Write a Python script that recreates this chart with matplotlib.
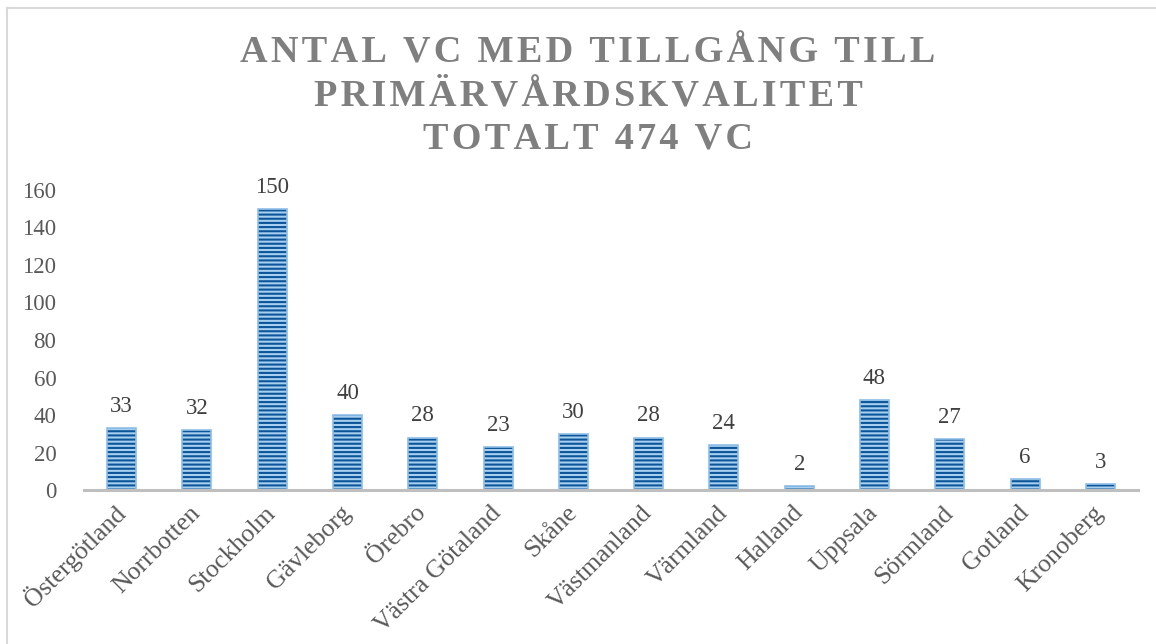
import numpy as np
import matplotlib.pyplot as plt
from matplotlib.lines import Line2D

# data
regions = ['Östergötland', 'Norrbotten', 'Stockholm', 'Gävleborg', 'Örebro',
           'Västra Götaland', 'Skåne', 'Västmanland', 'Värmland', 'Halland',
           'Uppsala', 'Sörmland', 'Gotland', 'Kronoberg']
counts = [33, 32, 150, 40, 28, 23, 30, 28, 24, 2, 48, 27, 6, 3]
yticks = [0, 20, 40, 60, 80, 100, 120, 140, 160]
title_lines = ['ANTAL VC MED TILLGÅNG TILL', 'PRIMÄRVÅRDSKVALITET', 'TOTALT 474 VC']

plt.rcParams['font.family'] = ['Liberation Serif', 'DejaVu Serif']
plt.rcParams['hatch.linewidth'] = 1.5

fig = plt.figure(figsize=(11.56, 6.44), dpi=100)
ax = fig.add_axes([0.0727, 0.2391, 0.9117, 0.4659])

x = np.arange(len(regions))
# light blue base with dark blue horizontal stripes
ax.bar(x, counts, width=0.385, color='#a6cff0', edgecolor='#0d5599',
       linewidth=0, hatch='----', zorder=2)
ax.bar(x, counts, width=0.385, color='none', edgecolor='#8dbde6',
       linewidth=1.2, zorder=2)

# value labels above bars
for xi, v in zip(x, counts):
    ax.annotate(str(v), (xi, v), xytext=(0, 8), textcoords='offset points',
                ha='center', va='bottom', fontsize=16.5, color='#404040')

ax.set_xlim(-0.5, len(regions) - 0.5)
ax.set_ylim(0, 160)
ax.set_yticks(yticks)
ax.set_xticks(x)
ax.set_xticklabels(regions, rotation=45, ha='right', va='center',
                   rotation_mode='anchor')
ax.tick_params(axis='y', length=0, pad=20, labelsize=16.5, labelcolor='#595959')
ax.tick_params(axis='x', length=0, pad=14, labelsize=18.5, labelcolor='#595959')
for s in ['top', 'right', 'left']:
    ax.spines[s].set_visible(False)
ax.spines['bottom'].set_color('#bfbfbf')
ax.spines['bottom'].set_linewidth(2.2)
ax.spines['bottom'].set_zorder(3)

# title with wide letter spacing
hair = '\u200a'
for i, line in enumerate(title_lines):
    spaced = hair.join(line)
    fig.text(0.5087, 1 - (53 + 43 * i) / 644, spaced, ha='center', va='center',
             fontsize=27.5, fontweight='bold', color='#7f7f7f')

# chart frame (top and left edges visible)
fig.add_artist(Line2D([7 / 1156, 1], [1 - 8 / 644, 1 - 8 / 644],
                      color='#d9d9d9', lw=1.5, transform=fig.transFigure))
fig.add_artist(Line2D([7 / 1156, 7 / 1156], [0, 1 - 8 / 644],
                      color='#d9d9d9', lw=1.5, transform=fig.transFigure))

fig.savefig('out.png', dpi=100)
